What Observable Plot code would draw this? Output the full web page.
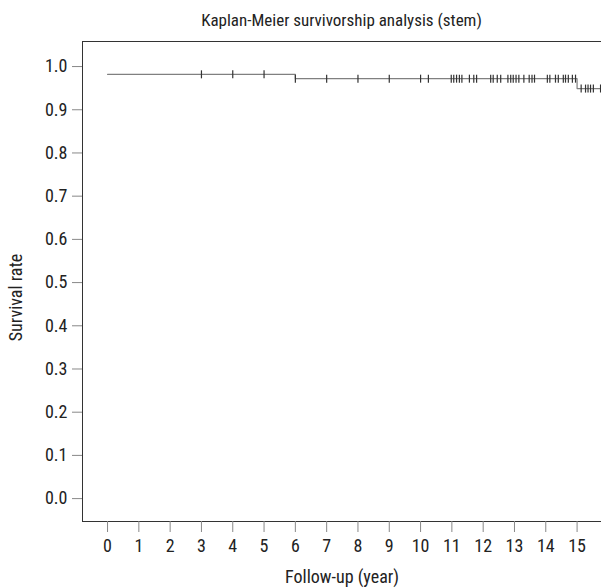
<!DOCTYPE html>
<html>
<head>
<meta charset="utf-8">
<script src="https://cdn.jsdelivr.net/npm/d3@7"></script>
<script src="https://cdn.jsdelivr.net/npm/@observablehq/plot@0.6"></script>
<style>
  html, body { margin: 0; padding: 0; background: #fff; }
  body { width: 601px; height: 588px; overflow: hidden; font-family: "Roboto Condensed", "Liberation Sans Narrow", "DejaVu Sans Condensed", "DejaVu Sans", sans-serif; font-stretch: condensed; }
  svg, svg text { font-stretch: condensed; }
  #title { height: 30px; line-height: 40px; padding-left: 82px; text-align: center; font-size: 17px; color: #222; white-space: nowrap; }
</style>
</head>
<body>
<div id="title">Kaplan-Meier survivorship analysis (stem)</div>
<div id="chart"></div>
<script>
// Step function: event times and survival after each
const eventTimes = [0, 6, 15, 15.8];
const survival = [0.982, 0.972, 0.949, 0.949];
// Censored observations (years)
const censorTimes = [
  3, 4, 5,
  6, 7, 8, 9, 10, 10.25,
  10.98, 11.06, 11.15, 11.24, 11.32, 11.56, 11.7, 11.79,
  12.24, 12.32, 12.45, 12.56, 12.79, 12.88, 12.96, 13.05, 13.14, 13.3,
  13.47, 13.56, 13.64, 14.05, 14.13, 14.31, 14.4, 14.56, 14.63, 14.72, 14.85, 14.95,
  15.13, 15.27, 15.35, 15.43, 15.52, 15.75
];
const xTicks = [0,1,2,3,4,5,6,7,8,9,10,11,12,13,14,15];
const yTicks = [0,0.1,0.2,0.3,0.4,0.5,0.6,0.7,0.8,0.9,1.0];

const curve = eventTimes.map((t, i) => ({t, s: survival[i]}));
const levelAt = t => { let s = survival[0]; eventTimes.forEach((e, i) => { if (t >= e) s = survival[i]; }); return s; };
const censored = censorTimes.map(t => ({t, s: levelAt(t)}));

const vbar = { draw(ctx, size) { const h = Math.sqrt(size / Math.PI); ctx.moveTo(0, -h); ctx.lineTo(0, h); } };

const font = '"Roboto Condensed", "Liberation Sans Narrow", "DejaVu Sans Condensed", "DejaVu Sans", sans-serif';

const chart = Plot.plot({
  width: 601,
  height: 558,
  marginTop: 11,
  marginLeft: 82,
  marginRight: 0,
  marginBottom: 67,
  style: { fontFamily: font, fontSize: "18px", color: "#222", background: "#fff" },
  x: { domain: [-0.8, 15.78] },
  y: { domain: [-0.053, 1.058] },
  marks: [
    Plot.frame({anchor: "left", stroke: "#333"}),
    Plot.frame({anchor: "top", stroke: "#333"}),
    Plot.frame({anchor: "bottom", stroke: "#333"}),
    Plot.axisX({ticks: xTicks, tickSize: 11, tickPadding: 7, stroke: "#888", fontSize: 18,
      label: "Follow-up (year)", labelAnchor: "center", labelArrow: "none", labelOffset: 61}),
    Plot.axisY({ticks: yTicks, tickFormat: d3.format(".1f"), tickSize: 10, tickPadding: 5, stroke: "#888", fontSize: 18, label: null}),
    Plot.text(["Survival rate"], {frameAnchor: "left", textAnchor: "middle", rotate: -90, dx: -66, dy: 16, fontSize: 18, fill: "#222"}),
    Plot.line(curve, {x: "t", y: "s", curve: "step-after", stroke: "#808080", strokeWidth: 1.2}),
    Plot.dot(censored, {x: "t", y: "s", symbol: vbar, r: 4, stroke: "#333", strokeWidth: 1.2, fill: "none"})
  ]
});
document.getElementById("chart").appendChild(chart);
</script>
</body>
</html>
